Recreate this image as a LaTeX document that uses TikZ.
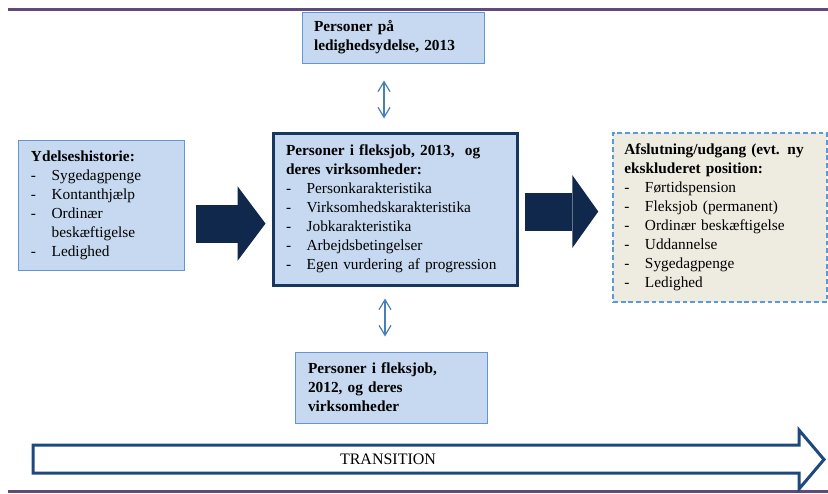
\documentclass[tikz,border=0pt]{standalone}
\usepackage{fontspec}
\setmainfont{Liberation Serif}
\usepackage{xcolor}
\definecolor{BoxBlue}{RGB}{198, 217, 241}
\definecolor{BoxLine}{RGB}{100, 149, 210}
\definecolor{NavyLine}{RGB}{23, 55, 94}
\definecolor{NavyFill}{RGB}{15, 40, 75}
\definecolor{ExitFill}{RGB}{238, 236, 225}
\definecolor{ExitLine}{RGB}{91, 155, 213}
\definecolor{TransLine}{RGB}{31, 73, 125}
\definecolor{RulePurple}{RGB}{96, 74, 123}
\definecolor{LinkBlue}{RGB}{74, 126, 187}
\usepackage{tikz}
\usetikzlibrary{arrows.meta}

\newcommand{\dashitem}[1]{\makebox[15.5pt][l]{-}#1}

\begin{document}
\begin{tikzpicture}[
        x=0.75pt, y=-0.75pt,
        infobox/.style={rectangle, draw=BoxLine, fill=BoxBlue, line width=0.75pt, align=left, inner xsep=9.75pt, inner ysep=3pt, font=\fontsize{11.5}{14.25}\selectfont},
        mainbox/.style={infobox, draw=NavyLine, line width=2.25pt},
        exitbox/.style={infobox, draw=ExitLine, fill=ExitFill, line width=1.1pt, dash pattern=on 3.6pt off 2.2pt},
        blockarrow/.style={draw=NavyFill, line width=28.5pt, -{Triangle[length=21pt, width=56pt, line width=0pt]}},
        dblarrow/.style={draw=LinkBlue, line width=0.9pt, {Straight Barb[length=7.5pt, width=9pt]}-{Straight Barb[length=7.5pt, width=9pt]}},
        transarrow/.style={draw=TransLine, fill=white, line width=2.25pt, miter limit=4},
        purplerule/.style={draw=RulePurple, line width=2.25pt}
    ]
        \useasboundingbox (0,0) rectangle (828,493);

        % top and bottom rules
        \draw[purplerule] (8,9.5) -- (828,9.5);
        \draw[purplerule] (8,491.5) -- (828,491.5);

        % boxes
        \node[mainbox, minimum width=183pt, minimum height=114pt, text width=163.5pt] (fleks) at (395,209)
            {\textbf{Personer i fleksjob, 2013, \ og}\\
             \textbf{deres virksomheder:}\\
             \dashitem{Personkarakteristika}\\
             \dashitem{Virksomhedskarakteristika}\\
             \dashitem{Jobkarakteristika}\\
             \dashitem{Arbejdsbetingelser}\\
             \dashitem{Egen vurdering af progression}};
        \node[infobox, minimum width=124.5pt, minimum height=97.5pt, text width=105pt] (ydelse) at (101,205)
            {\textbf{Ydelseshistorie:}\\
             \dashitem{Sygedagpenge}\\
             \dashitem{Kontanthjælp}\\
             \dashitem{Ordinær}\\
             \hspace*{15.5pt}beskæftigelse\\
             \dashitem{Ledighed}};
        \node[exitbox, minimum width=160.5pt, minimum height=126.75pt, inner xsep=8.5pt, text width=143.5pt] (afslut) at (720,217.5)
            {\textbf{Afslutning/udgang (evt. ny}\\
             \textbf{ekskluderet position:}\\
             \dashitem{Førtidspension}\\
             \dashitem{Fleksjob (permanent)}\\
             \dashitem{Ordinær beskæftigelse}\\
             \dashitem{Uddannelse}\\
             \dashitem{Sygedagpenge}\\
             \dashitem{Ledighed}};
        \node[infobox, minimum width=136.5pt, minimum height=38.25pt, inner xsep=4pt, text width=128.5pt] (ledig) at (393,37.5)
            {\hspace*{5pt}\textbf{Personer på}\\
             \hspace*{5pt}\textbf{ledighedsydelse, 2013}};
        \node[infobox, minimum width=144pt, minimum height=53.25pt, text width=124.5pt] (tidl) at (391,387.5)
            {\textbf{Personer i fleksjob,}\\
             \textbf{2012, og deres}\\
             \textbf{virksomheder}};

        % block arrows
        \draw[blockarrow, shorten <=8.25pt, shorten >=4.5pt] ([yshift=-13.9pt]ydelse.east) -- ([yshift=-13.9pt]ydelse.east -| fleks.west);
        \draw[blockarrow, -{Triangle[length=19.5pt, width=54.75pt, line width=0pt]}, shorten <=4.5pt, shorten >=10.5pt] ([yshift=-1.9pt]fleks.east) -- ([yshift=-1.9pt]fleks.east -| afslut.west);

        % double arrows
        \coordinate (upx) at (384,0);
        \coordinate (downx) at (385,0);
        \draw[dblarrow, shorten <=12.75pt, shorten >=9.75pt] (ledig.south -| upx) -- (fleks.north -| upx);
        \draw[dblarrow, shorten <=9pt, shorten >=11.25pt] (fleks.south -| downx) -- (tidl.north -| downx);

        % transition
        \draw[transarrow] (33,445) -- (799,445) -- (799,430) -- (824,459.5) -- (799,489) -- (799,473) -- (33,473) -- cycle;
        \node[font=\fontsize{12}{14}\selectfont] (trans) at (388,459) {TRANSITION};
    \end{tikzpicture}
\end{document}
